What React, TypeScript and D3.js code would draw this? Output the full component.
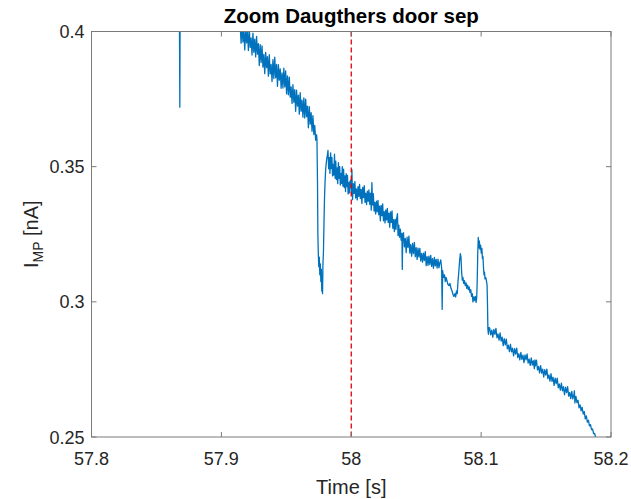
import React from "react";
import * as d3 from "d3";

const TITLE = "Zoom Daugthers door sep";
const X_LABEL = "Time [s]";
const X_DOMAIN: [number, number] = [57.8, 58.2];
const Y_DOMAIN: [number, number] = [0.25, 0.4];
const X_TICKS = [57.8, 57.9, 58.0, 58.1, 58.2];
const X_TICK_LABELS = ["57.8", "57.9", "58", "58.1", "58.2"];
const Y_TICKS = [0.25, 0.3, 0.35, 0.4];
const Y_TICK_LABELS = ["0.25", "0.3", "0.35", "0.4"];
const MARKER_TIME = 58.0;

// [time s, current nA] — segments
const clippedStart: [number, number][] = [
  [57.8, 0.43], [57.8675, 0.43], [57.868, 0.372], [57.8684, 0.43], [57.905, 0.43],
  [57.9125, 0.41], [57.914, 0.4025],
];

const descentBand: [number, number][] = [
  [57.9145, 0.402], [57.9152, 0.3957], [57.9159, 0.403], [57.9166, 0.3961], [57.9173, 0.4002],
  [57.918, 0.3932], [57.9187, 0.4013], [57.9194, 0.3958], [57.9201, 0.4], [57.9208, 0.393],
  [57.9215, 0.4011], [57.9222, 0.3941], [57.9229, 0.3976], [57.9236, 0.3913], [57.9243, 0.3994],
  [57.925, 0.3923], [57.9257, 0.3972], [57.9264, 0.3906], [57.9271, 0.3982], [57.9278, 0.3916],
  [57.9285, 0.3955], [57.9292, 0.3874], [57.9299, 0.3951], [57.9306, 0.3885], [57.9313, 0.3947],
  [57.932, 0.3868], [57.9327, 0.3915], [57.9334, 0.3844], [57.9341, 0.3923], [57.9348, 0.3866],
  [57.9355, 0.3907], [57.9362, 0.3835], [57.9369, 0.3914], [57.9376, 0.3843], [57.9383, 0.3878],
  [57.939, 0.3815], [57.9397, 0.3896], [57.9404, 0.3826], [57.9411, 0.3905], [57.9418, 0.3829],
  [57.9425, 0.3878], [57.9432, 0.3797], [57.9439, 0.3877], [57.9446, 0.382], [57.9453, 0.3862],
  [57.946, 0.379], [57.9467, 0.3847], [57.9474, 0.3791], [57.9481, 0.3864], [57.9488, 0.3795],
  [57.9495, 0.3854], [57.9502, 0.3769], [57.9509, 0.3836], [57.9516, 0.3766], [57.9523, 0.3831],
  [57.953, 0.3757], [57.9537, 0.3795], [57.9544, 0.3734], [57.9551, 0.3803], [57.9558, 0.3738],
  [57.9565, 0.3785], [57.9572, 0.3705], [57.9579, 0.3783], [57.9586, 0.3724], [57.9593, 0.3765],
  [57.96, 0.3694], [57.9607, 0.3774], [57.9614, 0.3705], [57.9621, 0.3746], [57.9628, 0.3683],
  [57.9635, 0.3754], [57.9642, 0.368], [57.9649, 0.375], [57.9656, 0.3685], [57.9663, 0.3724],
  [57.967, 0.3644], [57.9677, 0.3722], [57.9684, 0.3657], [57.9691, 0.37], [57.9698, 0.3631],
  [57.9705, 0.3689], [57.9712, 0.3619], [57.9719, 0.3653], [57.9726, 0.3598], [57.9733, 0.3618],
];

const dropDip: [number, number][] = [
  [57.9736, 0.3599], [57.974, 0.345], [57.9743, 0.325], [57.9746, 0.3185], [57.975, 0.313],
  [57.9754, 0.3165], [57.9758, 0.31], [57.9762, 0.314], [57.9766, 0.3075], [57.977, 0.312],
  [57.9773, 0.304], [57.9776, 0.31], [57.9779, 0.303], [57.9782, 0.314], [57.9786, 0.3185],
  [57.979, 0.329], [57.9794, 0.338], [57.9798, 0.344], [57.9803, 0.349], [57.981, 0.3525],
  [57.9817, 0.3545],
];

const recoveryBand: [number, number][] = [
  [57.9821, 0.356], [57.9826, 0.3492], [57.9831, 0.3533], [57.9836, 0.3475], [57.9841, 0.3551],
  [57.9846, 0.3493], [57.9851, 0.3534], [57.9856, 0.3466], [57.9861, 0.3508], [57.9866, 0.3469],
  [57.9871, 0.3546], [57.9876, 0.3457], [57.9881, 0.352], [57.9886, 0.3452], [57.9891, 0.3495],
  [57.9896, 0.3437], [57.9901, 0.3515], [57.9906, 0.3457], [57.9911, 0.35], [57.9916, 0.3432],
  [57.9921, 0.3475], [57.9926, 0.3438], [57.9931, 0.35], [57.9936, 0.3428], [57.9941, 0.3491],
  [57.9946, 0.3423], [57.9951, 0.3466], [57.9956, 0.3408], [57.9961, 0.3474], [57.9966, 0.3426],
  [57.9971, 0.3468], [57.9976, 0.3399], [57.9981, 0.3441], [57.9986, 0.3403], [57.999, 0.3445],
];

const afterMarker: [number, number][] = [
  [57.9996, 0.345], [58.0002, 0.3396], [58.0005, 0.3489], [58.001, 0.3378], [58.0016, 0.3437],
  [58.0022, 0.3401], [58.0028, 0.3445], [58.0034, 0.3384], [58.004, 0.3418], [58.0046, 0.3377],
  [58.0052, 0.3426], [58.0058, 0.339], [58.0064, 0.3434], [58.007, 0.3382], [58.0076, 0.3416],
  [58.0082, 0.3364], [58.0088, 0.3423], [58.0094, 0.3386], [58.01, 0.343], [58.0106, 0.3368],
  [58.0112, 0.3402], [58.0118, 0.336], [58.0124, 0.3409], [58.013, 0.3372], [58.0136, 0.3414],
  [58.0142, 0.3361], [58.0148, 0.3402], [58.0154, 0.3339], [58.0159, 0.3441], [58.0164, 0.3358],
  [58.017, 0.34], [58.0176, 0.3336], [58.0182, 0.3368], [58.0188, 0.3325], [58.0194, 0.3372],
  [58.02, 0.3333], [58.0206, 0.3375], [58.0212, 0.3322], [58.0218, 0.3354], [58.0224, 0.33],
  [58.023, 0.3357], [58.0236, 0.3319], [58.0242, 0.3362], [58.0248, 0.33], [58.0254, 0.3334],
  [58.026, 0.3292], [58.0266, 0.334], [58.0272, 0.3303], [58.0278, 0.3346], [58.0284, 0.3294],
  [58.029, 0.3328], [58.0296, 0.3276], [58.0302, 0.3333], [58.0308, 0.3294], [58.0314, 0.3336],
  [58.032, 0.3272], [58.0326, 0.3304], [58.0332, 0.326], [58.0338, 0.3306], [58.0344, 0.3268],
  [58.035, 0.3309], [58.0356, 0.3326], [58.036, 0.3245], [58.0366, 0.3284], [58.0372, 0.3239],
  [58.0378, 0.3269], [58.0384, 0.3228], [58.039, 0.3253], [58.0393, 0.312], [58.0396, 0.3238],
];

const midPlateau: [number, number][] = [
  [58.0402, 0.3256], [58.0409, 0.3203], [58.0416, 0.3235], [58.0423, 0.3182], [58.043, 0.3239],
  [58.0437, 0.3201], [58.0444, 0.3243], [58.0451, 0.318], [58.0458, 0.3212], [58.0465, 0.3169],
  [58.0472, 0.3216], [58.0479, 0.3178], [58.0486, 0.322], [58.0493, 0.3167], [58.05, 0.32],
  [58.0507, 0.3157], [58.0514, 0.3199], [58.0521, 0.3166], [58.0528, 0.3198], [58.0535, 0.3151],
  [58.0542, 0.3179], [58.0549, 0.3147], [58.0556, 0.318], [58.0563, 0.3153], [58.057, 0.3186],
  [58.0577, 0.3134], [58.0584, 0.3167], [58.0591, 0.3135], [58.0598, 0.3169], [58.0605, 0.3138],
  [58.0612, 0.3172], [58.0619, 0.3131], [58.0626, 0.316], [58.0633, 0.3124], [58.064, 0.3164],
  [58.0647, 0.3133], [58.0654, 0.3157], [58.0661, 0.3125], [58.0668, 0.3158], [58.0675, 0.3126],
  [58.0682, 0.3144], [58.0689, 0.3155], [58.0696, 0.3125], [58.07, 0.2972], [58.0704, 0.3115],
  [58.071, 0.309],
];

const twinPeaks: [number, number][] = [
  [58.0718, 0.31], [58.0724, 0.3075], [58.073, 0.309], [58.0737, 0.3078], [58.0744, 0.3065],
  [58.0752, 0.306], [58.076, 0.3068], [58.0768, 0.305], [58.0776, 0.304], [58.0783, 0.3028],
  [58.079, 0.302], [58.0798, 0.303], [58.0804, 0.3018], [58.081, 0.304], [58.0816, 0.303],
  [58.0822, 0.3075], [58.0828, 0.311], [58.0834, 0.315], [58.084, 0.3178], [58.0845, 0.3165],
  [58.085, 0.311], [58.0855, 0.308], [58.086, 0.309], [58.0866, 0.3068], [58.0872, 0.3078],
  [58.0878, 0.306], [58.0884, 0.307], [58.089, 0.305], [58.0896, 0.3062], [58.0902, 0.3045],
  [58.0908, 0.3055], [58.0914, 0.3035], [58.092, 0.3045], [58.0926, 0.302], [58.0932, 0.303],
  [58.0937, 0.3], [58.0943, 0.3018], [58.0949, 0.3005], [58.0955, 0.302], [58.0961, 0.2998],
  [58.0966, 0.3015], [58.097, 0.308], [58.0974, 0.318], [58.0978, 0.3238], [58.0982, 0.32],
  [58.0986, 0.3225], [58.0991, 0.3195], [58.0996, 0.321], [58.1001, 0.318], [58.1006, 0.3198],
  [58.101, 0.316], [58.1014, 0.3168], [58.1018, 0.313], [58.1022, 0.31], [58.1026, 0.311],
  [58.103, 0.3085], [58.1036, 0.309], [58.1042, 0.3075], [58.1046, 0.306], [58.1049, 0.299],
  [58.1052, 0.29], [58.1056, 0.288], [58.106, 0.2905],
];

const finalSlope: [number, number][] = [
  [58.1066, 0.2903], [58.1074, 0.2878], [58.1082, 0.2895], [58.109, 0.2869], [58.1098, 0.2898],
  [58.1106, 0.288], [58.1114, 0.2902], [58.1122, 0.2867], [58.113, 0.2881], [58.1138, 0.2858],
  [58.1146, 0.2885], [58.1154, 0.2855], [58.1162, 0.2869], [58.117, 0.2838], [58.1178, 0.2864],
  [58.1186, 0.2841], [58.1194, 0.2862], [58.1202, 0.2826], [58.121, 0.284], [58.1218, 0.2816],
  [58.1226, 0.2843], [58.1234, 0.2815], [58.1242, 0.2829], [58.125, 0.28], [58.1258, 0.2827],
  [58.1266, 0.2807], [58.1274, 0.2829], [58.1282, 0.2794], [58.129, 0.2808], [58.1298, 0.2785],
  [58.1306, 0.2813], [58.1314, 0.2787], [58.1322, 0.2803], [58.133, 0.2775], [58.1338, 0.2804],
  [58.1346, 0.2785], [58.1354, 0.2807], [58.1362, 0.2773], [58.137, 0.2788], [58.1378, 0.2765],
  [58.1386, 0.2793], [58.1394, 0.2766], [58.1402, 0.2782], [58.141, 0.2753], [58.1414, 0.2785],
  [58.1418, 0.2763], [58.1426, 0.2784], [58.1434, 0.2748], [58.1442, 0.2761], [58.145, 0.2737],
  [58.1458, 0.2764], [58.1466, 0.2736], [58.1474, 0.2751], [58.1482, 0.2722], [58.149, 0.2749],
  [58.1498, 0.2729], [58.1506, 0.2751], [58.1514, 0.2716], [58.1522, 0.273], [58.153, 0.2707],
  [58.1538, 0.2734], [58.1546, 0.2706], [58.1554, 0.2721], [58.1562, 0.2691], [58.157, 0.2718],
  [58.1578, 0.2697], [58.1586, 0.2718], [58.1594, 0.2682], [58.1602, 0.2696], [58.161, 0.2673],
  [58.1618, 0.2699], [58.1626, 0.2671], [58.1634, 0.2686], [58.1642, 0.2657], [58.165, 0.2684],
  [58.1658, 0.2664], [58.1666, 0.2686], [58.1674, 0.2651], [58.1682, 0.2665], [58.169, 0.2642],
  [58.1698, 0.2669], [58.1706, 0.2641], [58.1714, 0.2656], [58.1718, 0.2671], [58.1722, 0.2626],
  [58.173, 0.265], [58.1738, 0.2627], [58.1746, 0.2636], [58.1754, 0.2608], [58.1762, 0.2619],
  [58.177, 0.2597], [58.1778, 0.261], [58.1786, 0.2585], [58.1794, 0.2594], [58.1802, 0.2567],
  [58.181, 0.2578], [58.1818, 0.2555], [58.1826, 0.2562], [58.1834, 0.2541], [58.1842, 0.2546],
  [58.185, 0.2527], [58.1858, 0.253], [58.1866, 0.2513], [58.1874, 0.2513], [58.1882, 0.2498],
  [58.189, 0.2495],
];

const W = 631;
const H = 499;
const M = { left: 91.5, right: 611, top: 31.5, bottom: 437 };
const FONT = "'Liberation Sans', Arial, Helvetica, sans-serif";
const AXIS_COLOR = "#262626";
const BOX_COLOR = "#7a7a7a";

export default function App() {
  const x = d3.scaleLinear().domain(X_DOMAIN).range([M.left, M.right]);
  const y = d3.scaleLinear().domain(Y_DOMAIN).range([M.bottom, M.top]);
  const data = [
    ...clippedStart, ...descentBand, ...dropDip, ...recoveryBand,
    ...afterMarker, ...midPlateau, ...twinPeaks, ...finalSlope,
  ];
  const line = d3
    .line<[number, number]>()
    .x((d) => x(d[0]))
    .y((d) => y(d[1]));
  const tickLen = 5;
  const cx = (M.left + M.right) / 2;
  const cy = (M.top + M.bottom) / 2;

  return (
    <svg
      width={W}
      height={H}
      style={{ position: "absolute", left: 0, top: 0, background: "#fff" }}
      fontFamily={FONT}
    >
      <rect x={0} y={0} width={W} height={H} fill="#ffffff" />
      <defs>
        <clipPath id="plotClip">
          <rect x={M.left} y={M.top} width={M.right - M.left} height={M.bottom - M.top} />
        </clipPath>
      </defs>
      <g clipPath="url(#plotClip)">
        <path d={line(data) || ""} fill="none" stroke="#0072BD" strokeWidth={1.3} strokeLinejoin="round" />
        <line
          x1={x(MARKER_TIME)}
          x2={x(MARKER_TIME)}
          y1={M.top}
          y2={M.bottom}
          stroke="#e00000"
          strokeWidth={1.3}
          strokeDasharray="5,3"
        />
      </g>
      <rect
        x={M.left}
        y={M.top}
        width={M.right - M.left}
        height={M.bottom - M.top}
        fill="none"
        stroke={BOX_COLOR}
        strokeWidth={1}
      />
      {X_TICKS.map((t, i) => (
        <g key={"xt" + i}>
          <line x1={x(t)} x2={x(t)} y1={M.bottom} y2={M.bottom - tickLen} stroke={BOX_COLOR} />
          <line x1={x(t)} x2={x(t)} y1={M.top} y2={M.top + tickLen} stroke={BOX_COLOR} />
          <text x={x(t)} y={M.bottom + 28} textAnchor="middle" fontSize={18} fill={AXIS_COLOR}>
            {X_TICK_LABELS[i]}
          </text>
        </g>
      ))}
      {Y_TICKS.map((v, i) => (
        <g key={"yt" + i}>
          <line x1={M.left} x2={M.left + tickLen} y1={y(v)} y2={y(v)} stroke={BOX_COLOR} />
          <line x1={M.right} x2={M.right - tickLen} y1={y(v)} y2={y(v)} stroke={BOX_COLOR} />
          <text x={M.left - 7} y={y(v) + 6.5} textAnchor="end" fontSize={18} fill={AXIS_COLOR}>
            {Y_TICK_LABELS[i]}
          </text>
        </g>
      ))}
      <text x={cx} y={23} textAnchor="middle" fontSize={20.5} fontWeight="bold" fill="#000">
        {TITLE}
      </text>
      <text x={cx} y={494} textAnchor="middle" fontSize={20} fill={AXIS_COLOR}>
        {X_LABEL}
      </text>
      <text
        transform={`translate(38, ${cy}) rotate(-90)`}
        textAnchor="middle"
        fontSize={20}
        fill={AXIS_COLOR}
      >
        I
        <tspan fontSize={14} dy={5}>MP</tspan>
        <tspan dy={-5}> [nA]</tspan>
      </text>
    </svg>
  );
}
